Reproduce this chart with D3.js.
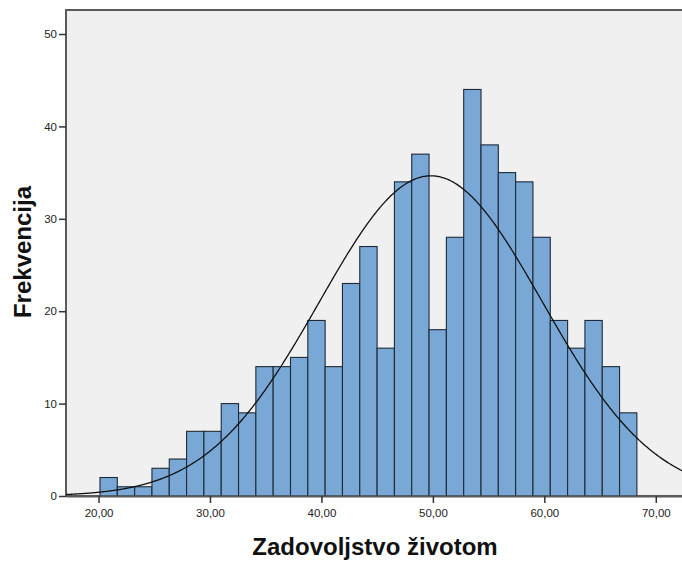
<!DOCTYPE html>
<html>
<head>
<meta charset="utf-8">
<script src="https://cdn.jsdelivr.net/npm/d3@7"></script>
<style>
  body { margin: 0; background: #fff; }
  svg { display: block; font-family: "Liberation Sans", Arial, sans-serif; }
</style>
</head>
<body>
<svg id="chart" width="682" height="562"></svg>
<script>
// histogram counts, bins of equal width
var counts = [2, 1, 1, 3, 4, 7, 7, 10, 9, 14, 14, 15, 19, 14, 23, 27, 16, 34, 37, 18,
              28, 44, 38, 35, 34, 28, 19, 16, 19, 14, 9];
var binStart = 20.13;
var binWidth = 1.554;

// fitted normal curve
var mean = 49.82;
var sd = 10.0;

var xTicks = [20, 30, 40, 50, 60, 70];
var yTicks = [0, 10, 20, 30, 40, 50];

var svg = d3.select("#chart"),
    margin = {top: 10, left: 66, bottom: 66, right: -10},
    width = +svg.attr("width"),
    height = +svg.attr("height");

var x = d3.scaleLinear()
    .domain([17.08, 73.25])
    .range([margin.left, width - margin.right]);

var y = d3.scaleLinear()
    .domain([0, 52.6])
    .range([height - margin.bottom, margin.top]);

var fmt = d => d.toFixed(2).replace(".", ",");

// plot background
svg.append("rect")
    .attr("x", margin.left)
    .attr("y", margin.top)
    .attr("width", width - margin.right - margin.left)
    .attr("height", y(0) - margin.top)
    .attr("fill", "#f0f0f0")
    .attr("stroke", "#5a5a5a")
    .attr("stroke-width", 2);

var bins = counts.map((c, i) => ({x0: binStart + i * binWidth, x1: binStart + (i + 1) * binWidth, n: c}));

svg.append("g").selectAll("rect")
  .data(bins)
  .enter().append("rect")
    .attr("x", d => x(d.x0))
    .attr("y", d => y(d.n))
    .attr("width", d => x(d.x1) - x(d.x0))
    .attr("height", d => y(0) - y(d.n))
    .attr("fill", "#79a8d6")
    .attr("stroke", "#1e2a36")
    .attr("stroke-width", 1.1);

// normal curve scaled to counts
var total = d3.sum(counts);
var xs = d3.range(x.domain()[0], x.domain()[1], 0.1);
var curve = d3.line()
    .x(d => x(d))
    .y(d => y(total * binWidth / (sd * Math.sqrt(2 * Math.PI)) * Math.exp(-Math.pow(d - mean, 2) / (2 * sd * sd))))
    .curve(d3.curveBasis);

svg.append("path")
    .datum(xs)
    .attr("d", curve)
    .attr("fill", "none")
    .attr("stroke", "#111")
    .attr("stroke-width", 1.3);

// axes
var yAxis = svg.append("g")
    .attr("transform", "translate(" + margin.left + ",0)")
    .call(d3.axisLeft(y).tickValues(yTicks).tickSize(7).tickSizeOuter(0).tickPadding(2));
yAxis.select(".domain").remove();

var xAxis = svg.append("g")
    .attr("transform", "translate(0," + y(0) + ")")
    .call(d3.axisBottom(x).tickValues(xTicks).tickFormat(fmt).tickSize(7).tickSizeOuter(0).tickPadding(6));
xAxis.select(".domain")
    .attr("stroke", "#5a5a5a")
    .attr("stroke-width", 2);

svg.selectAll(".tick line").attr("stroke", "#333").attr("stroke-width", 1.5);
svg.selectAll(".tick text")
    .attr("font-size", 11.5)
    .attr("font-family", "Liberation Sans, Arial, sans-serif")
    .attr("fill", "#222");

svg.append("text")
    .attr("x", 375)
    .attr("y", 555)
    .attr("text-anchor", "middle")
    .attr("font-size", 24)
    .attr("font-weight", "bold")
    .attr("fill", "#111")
    .text("Zadovoljstvo životom");

svg.append("text")
    .attr("transform", "translate(31,252) rotate(-90)")
    .attr("text-anchor", "middle")
    .attr("font-size", 24)
    .attr("font-weight", "bold")
    .attr("fill", "#111")
    .text("Frekvencija");
</script>
</body>
</html>
